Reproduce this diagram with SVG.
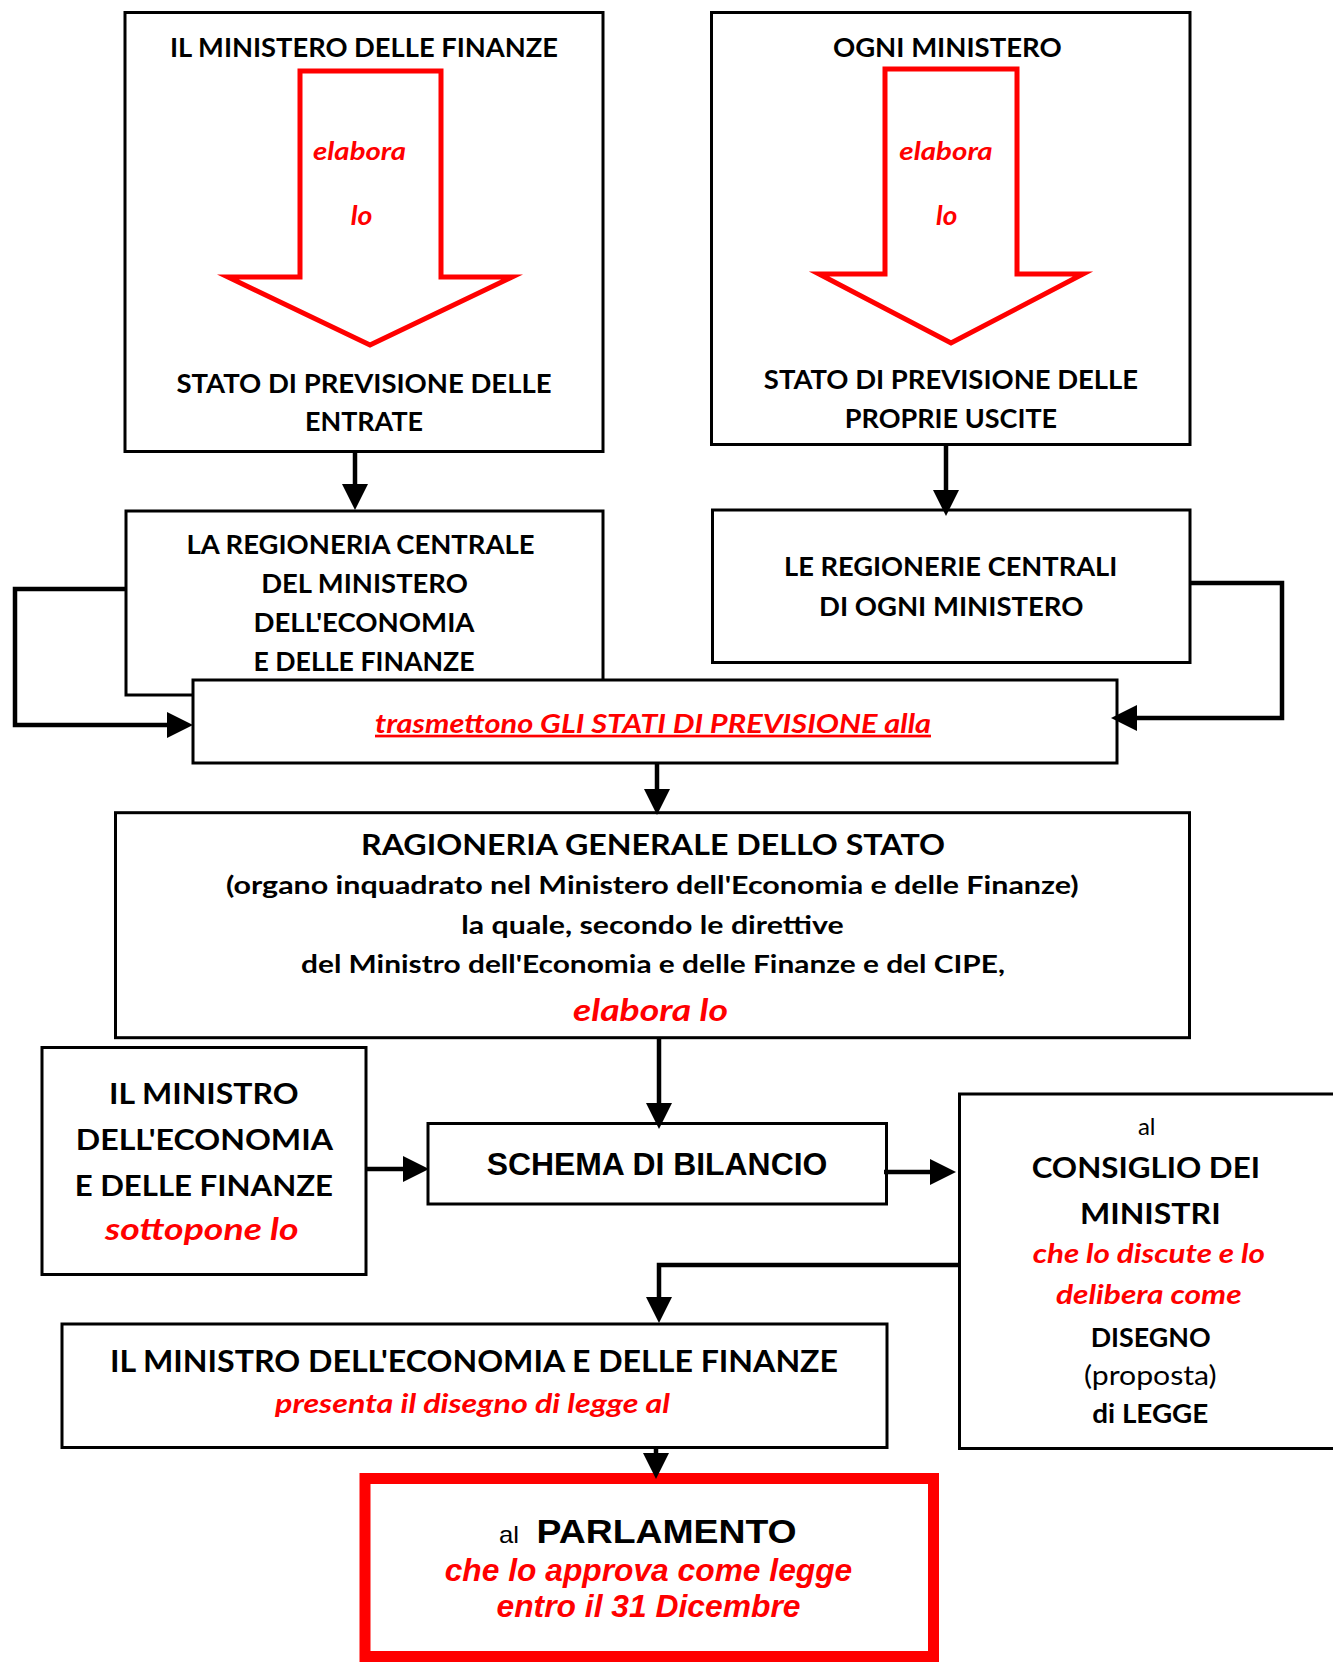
<svg xmlns="http://www.w3.org/2000/svg" width="1333" height="1663" viewBox="0 0 1333 1663">
<style>
.box{fill:#fff;stroke:#000;stroke-width:3}
.big{fill:none;stroke:#f00;stroke-width:5;stroke-miterlimit:10}
.b{font-family:Lato,"Liberation Sans",sans-serif;font-weight:bold;fill:#000;text-anchor:middle}
.r{font-family:Lato,"Liberation Sans",sans-serif;font-weight:normal;fill:#000;text-anchor:middle}
.ri{font-family:Lato,"Liberation Sans",sans-serif;font-weight:bold;font-style:italic;fill:#f00;text-anchor:middle}
.ab{font-family:"Liberation Sans",Arial,sans-serif;font-weight:bold;fill:#000;text-anchor:middle}
.ar{font-family:"Liberation Sans",Arial,sans-serif;font-weight:normal;fill:#000}
.ai{font-family:"Liberation Sans",Arial,sans-serif;font-weight:bold;font-style:italic;fill:#f00;text-anchor:middle}
.con{fill:none;stroke:#000;stroke-width:4.5}
</style>
<defs>
<marker id="ah" markerUnits="userSpaceOnUse" markerWidth="26" markerHeight="26" refX="20" refY="13" orient="auto">
<path d="M0,0 L26,13 L0,26 Z" fill="#000"/>
</marker>
</defs>
<rect x="0" y="0" width="1333" height="1663" fill="#fff"/>

<g id="n-ministero-finanze">
<rect class="box" x="125" y="12.5" width="478" height="439"/>
<text class="b" x="364" y="57" font-size="26.5" textLength="388" lengthAdjust="spacingAndGlyphs">IL MINISTERO DELLE FINANZE</text>
<path class="big" d="M300,71 H441 V277 H512 L370,345 L228,277 H300 Z"/>
<text class="ri" x="359.5" y="160" font-size="25" textLength="93" lengthAdjust="spacingAndGlyphs">elabora</text>
<text class="ri" x="361.5" y="225" font-size="26.5" textLength="21.7" lengthAdjust="spacingAndGlyphs">lo</text>
<text class="b" x="364" y="392.7" font-size="26.5" textLength="375" lengthAdjust="spacingAndGlyphs">STATO DI PREVISIONE DELLE</text>
<text class="b" x="364" y="431" font-size="26.5" textLength="118" lengthAdjust="spacingAndGlyphs">ENTRATE</text>
</g>

<g id="n-ogni-ministero">
<rect class="box" x="711.5" y="12.5" width="478.5" height="432"/>
<text class="b" x="947.3" y="57" font-size="26.5" textLength="228.7" lengthAdjust="spacingAndGlyphs">OGNI MINISTERO</text>
<path class="big" d="M885,69 H1017 V274 H1083 L951,343 L819,274 H885 Z"/>
<text class="ri" x="946" y="160" font-size="25" textLength="93.3" lengthAdjust="spacingAndGlyphs">elabora</text>
<text class="ri" x="946.7" y="225" font-size="26.5" textLength="21.3" lengthAdjust="spacingAndGlyphs">lo</text>
<text class="b" x="951" y="389.3" font-size="26.5" textLength="374.3" lengthAdjust="spacingAndGlyphs">STATO DI PREVISIONE DELLE</text>
<text class="b" x="951" y="428.3" font-size="26.5" textLength="212.3" lengthAdjust="spacingAndGlyphs">PROPRIE USCITE</text>
</g>

<g id="n-regioneria-centrale">
<rect class="box" x="126" y="511" width="477" height="184"/>
<text class="b" x="360.5" y="554" font-size="26.5" textLength="348" lengthAdjust="spacingAndGlyphs">LA REGIONERIA CENTRALE</text>
<text class="b" x="364.5" y="593.3" font-size="26.5" textLength="206.7" lengthAdjust="spacingAndGlyphs">DEL MINISTERO</text>
<text class="b" x="364" y="632.3" font-size="26.5" textLength="221" lengthAdjust="spacingAndGlyphs">DELL'ECONOMIA</text>
<text class="b" x="364" y="671" font-size="26.5" textLength="221" lengthAdjust="spacingAndGlyphs">E DELLE FINANZE</text>
</g>

<g id="n-regionerie-centrali">
<rect class="box" x="712.5" y="510" width="477.5" height="152.5"/>
<text class="b" x="950.7" y="576" font-size="26.5" textLength="333.2" lengthAdjust="spacingAndGlyphs">LE REGIONERIE CENTRALI</text>
<text class="b" x="951.2" y="615.7" font-size="26.5" textLength="264.4" lengthAdjust="spacingAndGlyphs">DI OGNI MINISTERO</text>
</g>

<g id="n-trasmettono">
<rect class="box" x="193" y="680" width="924" height="83"/>
<text class="ri" x="653" y="732.7" font-size="27" textLength="556" lengthAdjust="spacingAndGlyphs" text-decoration="underline">trasmettono GLI STATI DI PREVISIONE alla</text>
</g>

<g id="n-ragioneria-generale">
<rect class="box" x="115.5" y="812.7" width="1074" height="225"/>
<text class="b" x="653" y="855" font-size="28" textLength="584" lengthAdjust="spacingAndGlyphs">RAGIONERIA GENERALE DELLO STATO</text>
<text class="b" x="652.3" y="894" font-size="25" textLength="852.6" lengthAdjust="spacingAndGlyphs">(organo inquadrato nel Ministero dell'Economia e delle Finanze)</text>
<text class="b" x="652.5" y="934" font-size="25" textLength="382.3" lengthAdjust="spacingAndGlyphs">la quale, secondo le direttive</text>
<text class="b" x="653" y="973" font-size="25" textLength="704" lengthAdjust="spacingAndGlyphs">del Ministro dell'Economia e delle Finanze e del CIPE,</text>
<text class="ri" x="650.5" y="1021" font-size="30" textLength="155" lengthAdjust="spacingAndGlyphs">elabora lo</text>
</g>

<g id="n-ministro-sottopone">
<rect class="box" x="42" y="1047.5" width="324" height="227"/>
<text class="b" x="203.8" y="1104" font-size="28.5" textLength="189.5" lengthAdjust="spacingAndGlyphs">IL MINISTRO</text>
<text class="b" x="204.4" y="1150" font-size="28.5" textLength="257.2" lengthAdjust="spacingAndGlyphs">DELL'ECONOMIA</text>
<text class="b" x="203.8" y="1195.7" font-size="28.5" textLength="258.3" lengthAdjust="spacingAndGlyphs">E DELLE FINANZE</text>
<text class="ri" x="201.8" y="1240" font-size="30" textLength="193.5" lengthAdjust="spacingAndGlyphs">sottopone lo</text>
</g>

<g id="n-schema">
<rect class="box" x="428" y="1123.5" width="458.5" height="80.5"/>
<text class="ab" x="657" y="1175" font-size="31" textLength="340.7" lengthAdjust="spacingAndGlyphs">SCHEMA DI BILANCIO</text>
</g>

<g id="n-consiglio">
<rect class="box" x="959.5" y="1094" width="400" height="354.5"/>
<text class="r" x="1146.7" y="1135" font-size="24">al</text>
<text class="b" x="1145.8" y="1178.3" font-size="29" textLength="228.3" lengthAdjust="spacingAndGlyphs">CONSIGLIO DEI</text>
<text class="b" x="1150.3" y="1224" font-size="29" textLength="140.7" lengthAdjust="spacingAndGlyphs">MINISTRI</text>
<text class="ri" x="1148.8" y="1263.3" font-size="26.5" textLength="232.3" lengthAdjust="spacingAndGlyphs">che lo discute e lo</text>
<text class="ri" x="1148.8" y="1304" font-size="26.5" textLength="185.7" lengthAdjust="spacingAndGlyphs">delibera come</text>
<text class="b" x="1150.7" y="1346.7" font-size="26.5" textLength="120" lengthAdjust="spacingAndGlyphs">DISEGNO</text>
<text class="r" x="1150.3" y="1385" font-size="26.5" textLength="132.7" lengthAdjust="spacingAndGlyphs">(proposta)</text>
<text class="b" x="1150.3" y="1423.3" font-size="26.5" textLength="116" lengthAdjust="spacingAndGlyphs">di LEGGE</text>
</g>

<g id="n-ministro-presenta">
<rect class="box" x="62" y="1324" width="825" height="123.5"/>
<text class="b" x="474" y="1371.7" font-size="30" textLength="728" lengthAdjust="spacingAndGlyphs">IL MINISTRO DELL'ECONOMIA E DELLE FINANZE</text>
<text class="ri" x="472.5" y="1413" font-size="26.5" textLength="395" lengthAdjust="spacingAndGlyphs">presenta il disegno di legge al</text>
</g>

<g id="n-parlamento">
<rect x="365" y="1478.5" width="568.5" height="178" fill="#fff" stroke="#f00" stroke-width="11"/>
<text class="ar" x="499" y="1543" font-size="24" textLength="20" lengthAdjust="spacingAndGlyphs">al</text>
<text class="ab" x="666.6" y="1543" font-size="33" textLength="260" lengthAdjust="spacingAndGlyphs">PARLAMENTO</text>
<text class="ai" x="648.5" y="1580.7" font-size="31.5" textLength="407.6" lengthAdjust="spacingAndGlyphs">che lo approva come legge</text>
<text class="ai" x="648.5" y="1617.3" font-size="31.5" textLength="304" lengthAdjust="spacingAndGlyphs">entro il 31 Dicembre</text>
</g>

<g id="connectors">
<path class="con" d="M355,452 V504" marker-end="url(#ah)"/>
<path class="con" d="M946,444 V510" marker-end="url(#ah)"/>
<path class="con" d="M126,589 H15 V725 H187" marker-end="url(#ah)"/>
<path class="con" d="M1190,583 H1282 V718 H1117" marker-end="url(#ah)"/>
<path class="con" d="M657,763 V809" marker-end="url(#ah)"/>
<path class="con" d="M659,1038 V1123" marker-end="url(#ah)"/>
<path class="con" d="M366,1169 H423" marker-end="url(#ah)"/>
<path class="con" d="M884,1172 H950" marker-end="url(#ah)"/>
<path class="con" d="M959,1265 H659 V1317" marker-end="url(#ah)"/>
<path class="con" d="M656,1447 V1473" marker-end="url(#ah)"/>
</g>
</svg>
